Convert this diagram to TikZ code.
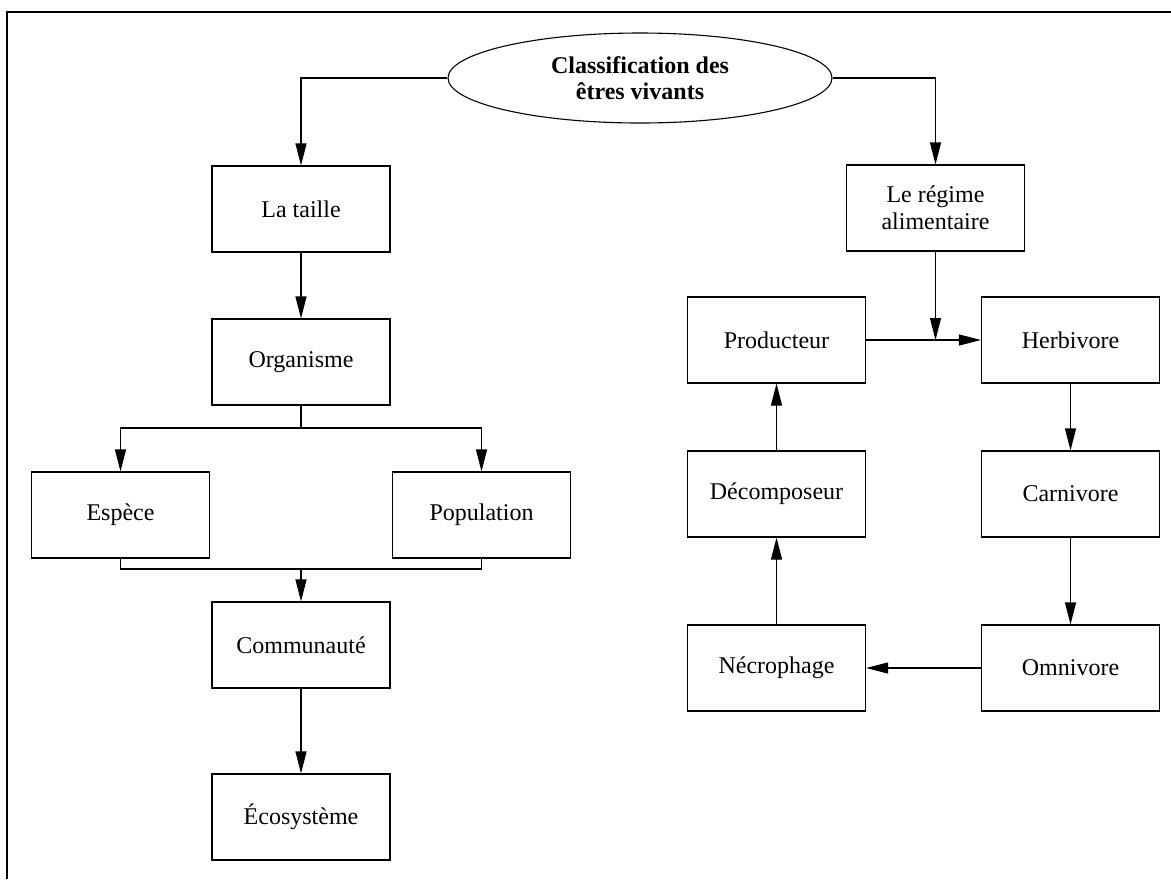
\documentclass[tikz,border=0pt]{standalone}
\usepackage{fontspec}
\setmainfont{Liberation Serif}
\usetikzlibrary{arrows.meta,shapes.geometric}
\begin{document}
\begin{tikzpicture}[x=0.5pt,y=-0.5pt,
  every node/.style={font=\fontsize{12}{13.5}\selectfont, align=center, inner sep=0pt},
  box/.style={draw, line width=0.55pt, minimum width=89pt, minimum height=43pt},
  oval/.style={draw, ellipse, line width=0.55pt, minimum width=192pt, minimum height=45pt,
               font=\fontsize{12}{13}\selectfont\bfseries},
  link/.style={line width=0.55pt},
  arr/.style={link, -{Triangle[length=11pt,width=5.5pt]}}]
  \useasboundingbox (0,0) rectangle (1171,879);
  % frame
  \draw[line width=1.3pt] (7,879) -- (7,12) -- (1171,12);

  % root
  \node[oval] (root) at (640,78) {Classification des\\êtres vivants};

  % size branch
  \node[box] (taille) at (301,209) {La taille};
  \node[box] (organisme) at (301,362) {Organisme};
  \node[box] (espece) at (120.5,515) {Espèce};
  \node[box] (population) at (481.5,515) {Population};
  \node[box] (communaute) at (301,645) {Communauté};
  \node[box] (ecosysteme) at (301,817) {Écosystème};
  \coordinate (split) at (301,428);
  \coordinate (merge) at (301,569);

  % diet branch
  \node[box] (regime) at (935.5,208) {Le régime\\alimentaire};
  \node[box] (producteur) at (776.5,340) {Producteur};
  \node[box] (herbivore) at (1070.5,340) {Herbivore};
  \node[box] (decomposeur) at (776.5,494) {Décomposeur};
  \node[box] (carnivore) at (1070.5,494) {Carnivore};
  \node[box] (necrophage) at (776.5,668) {Nécrophage};
  \node[box] (omnivore) at (1070.5,668) {Omnivore};
  \coordinate (join) at (935.5,340);

  % connectors
  \draw[arr] (root.west) -| (taille.north);
  \draw[arr] (root.east) -| (regime.north);

  \draw[arr] (taille) -- (organisme);
  \draw[link] (organisme.south) -- (split);
  \draw[arr] (split) -| (espece.north);
  \draw[arr] (split) -| (population.north);
  \draw[link] (espece.south) |- (merge) -| (population.south);
  \draw[arr] (merge) -- (communaute.north);
  \draw[arr] (communaute) -- (ecosysteme);

  \draw[arr] (producteur) -- (herbivore);
  \draw[arr] (regime.south) -- (join);
  \draw[arr] (herbivore) -- (carnivore);
  \draw[arr] (carnivore) -- (omnivore);
  \draw[arr] (omnivore) -- (necrophage);
  \draw[arr] (necrophage) -- (decomposeur);
  \draw[arr] (decomposeur) -- (producteur);
\end{tikzpicture}
\end{document}
